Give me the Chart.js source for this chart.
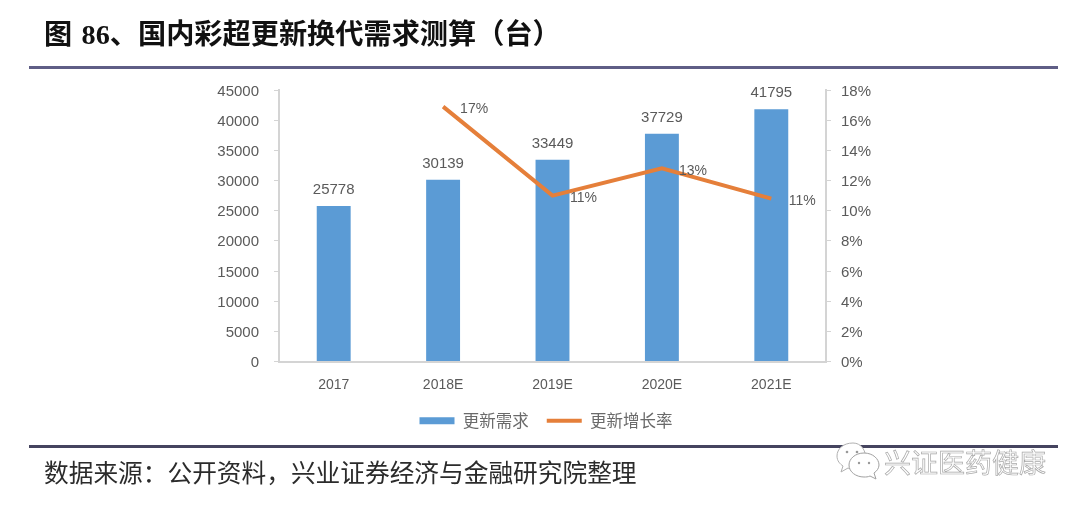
<!DOCTYPE html>
<html>
<head>
<meta charset="utf-8">
<script src="https://cdn.jsdelivr.net/npm/chart.js@4"></script>
<style>
  html, body { margin: 0; background: #fff; }
  #page { position: relative; width: 1080px; height: 510px; overflow: hidden; font-family: "Noto Sans CJK SC", sans-serif; }
  #chart-wrap { position: absolute; left: 0; top: 0; width: 1080px; height: 510px; filter: blur(0.4px); }
  .rule { position: absolute; left: 29px; width: 1029px; height: 3px; }
  #title { position: absolute; left: 44px; top: 14px; font-size: 28.2px; font-weight: 700; line-height: 36px; color: #111; white-space: pre; }
  #title .num { font-family: "Liberation Serif", serif; margin-left: 3px; }
  #source { position: absolute; left: 44px; top: 453px; font-size: 24.7px; line-height: 36px; color: #2b2b2b; white-space: pre; }
  #mark { position: absolute; left: 884px; top: 444px; font-size: 27px; line-height: 36px; color: #fff; -webkit-text-stroke: 0.7px #a8a8a8; white-space: pre; }
  #icon { position: absolute; left: 834px; top: 440px; }
</style>
</head>
<body>
<div id="page">
  <div id="chart-wrap"><canvas id="chart" width="1080" height="510"></canvas></div>
  <div id="title">图 <span class="num">86</span>、国内彩超更新换代需求测算（台）</div>
  <div class="rule" style="top:66px;background:#5f5e86"></div>
  <div class="rule" style="top:445px;background:#45445f"></div>
  <div id="source">数据来源：公开资料，兴业证券经济与金融研究院整理</div>
  <svg id="icon" width="48" height="44" viewBox="0 0 48 44">
    <path d="M19 3 C9 3 3 9 3 16 C3 21 6 24 9 26 L7 32 L14 28 C16 29 18 29 20 29 L32 20 C32 10 27 3 19 3 Z" fill="#fff" stroke="#b0b0b0" stroke-width="1"/>
    <path d="M30 13 C21 13 15 19 15 25 C15 32 22 37 30 37 C32 37 34 37 36 36 L42 39 L40 33 C43 31 45 28 45 25 C45 19 39 13 30 13 Z" fill="#fff" stroke="#a0a0a0" stroke-width="1"/>
    <circle cx="13" cy="12" r="1.3" fill="#999"/><circle cx="23" cy="12" r="1.3" fill="#999"/>
    <circle cx="25" cy="23" r="1.2" fill="#999"/><circle cx="35" cy="23" r="1.2" fill="#999"/>
  </svg>
  <div id="mark">兴证医药健康</div>
</div>
<script>
const categories = ['2017', '2018E', '2019E', '2020E', '2021E'];
const demand = [25778, 30139, 33449, 37729, 41795];
const growth = [null, 16.9, 11, 12.8, 10.8];
const growthLabels = ['', '17%', '11%', '13%', '11%'];

const labelColor = '#5a5a5a';
const axisColor = '#d4d4d4';
const tickFont = { family: '"Liberation Sans"', size: 15, lineHeight: '3px' };

// value labels above the bars and to the right of the line points
const valueLabels = {
  id: 'valueLabels',
  afterDatasetsDraw(chart) {
    const ctx = chart.ctx;
    ctx.save();
    ctx.fillStyle = labelColor;
    ctx.textAlign = 'center';
    ctx.textBaseline = 'middle';
    ctx.font = '15px "Liberation Sans"';
    chart.getDatasetMeta(0).data.forEach((bar, i) => {
      ctx.fillText(String(demand[i]), bar.x, bar.y - 16);
    });
    ctx.font = '14px "Liberation Sans"';
    chart.getDatasetMeta(1).data.forEach((pt, i) => {
      if (growthLabels[i]) ctx.fillText(growthLabels[i], pt.x + 31, pt.y + 3);
    });
    ctx.restore();
  }
};

new Chart(document.getElementById('chart'), {
  data: {
    labels: categories,
    datasets: [
      {
        type: 'bar',
        label: '更新需求',
        data: demand,
        yAxisID: 'y',
        backgroundColor: '#5b9bd5',
        barPercentage: 0.31,
        categoryPercentage: 1,
        pointStyle: 'rect',
        order: 2,
      },
      {
        type: 'line',
        label: '更新增长率',
        data: growth,
        yAxisID: 'y1',
        borderColor: '#e57f3a',
        backgroundColor: '#e57f3a',
        borderWidth: 4,
        pointRadius: 0,
        pointStyle: 'line',
        tension: 0,
        order: 1,
      },
    ],
  },
  plugins: [valueLabels],
  options: {
    responsive: false,
    animation: false,
    layout: { padding: { left: 212, right: 200, top: 90, bottom: 71 } },
    plugins: {
      tooltip: { enabled: false },
      legend: {
        position: 'bottom',
        labels: {
          usePointStyle: true,
          pointStyleWidth: 35,
          boxHeight: 7,
          padding: 18,
          color: '#6a6a6a',
          font: { family: '"Noto Sans CJK SC"', size: 16.5 },
          sort: (a, b) => a.datasetIndex - b.datasetIndex,
        },
      },
    },
    scales: {
      x: {
        afterFit(scale) { scale.height = 33; },
        grid: { display: false },
        border: { color: axisColor, width: 2 },
        ticks: { color: labelColor, font: { family: '"Liberation Sans"', size: 14 }, padding: 7, maxRotation: 0 },
      },
      y: {
        position: 'left',
        min: 0,
        max: 45000,
        afterFit(scale) { scale.width = 67; },
        grid: { drawOnChartArea: false, color: axisColor, tickLength: 5 },
        border: { color: axisColor, width: 2 },
        ticks: {
          stepSize: 5000,
          color: labelColor,
          font: tickFont,
          padding: 15,
          // empty first line nudges the label down to sit level with its tick
          callback: (v) => ['', String(v)],
        },
      },
      y1: {
        position: 'right',
        min: 0,
        max: 18,
        afterFit(scale) { scale.width = 54; },
        grid: { drawOnChartArea: false, color: axisColor, tickLength: 5 },
        border: { color: axisColor, width: 2 },
        ticks: {
          stepSize: 2,
          color: labelColor,
          font: tickFont,
          padding: 10,
          callback: (v) => ['', v + '%'],
        },
      },
    },
  },
});
</script>
</body>
</html>
